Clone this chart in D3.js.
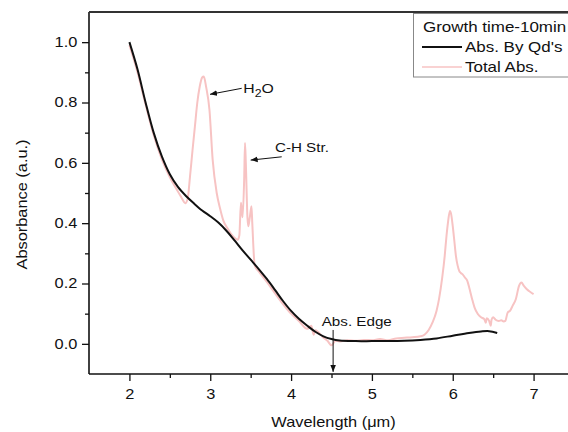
<!DOCTYPE html>
<html><head><meta charset="utf-8">
<script src="https://cdn.jsdelivr.net/npm/d3@7"></script>
<style>html,body{margin:0;padding:0;background:#fff;overflow:hidden}</style>
</head><body>
<svg id="c" width="568" height="432"></svg>
<script>
// ---------- data ----------
const qdWavelength = [2.0,2.1,2.2,2.3,2.4,2.5,2.6,2.7,2.8,2.9,3.0,3.1,3.2,3.3,3.4,3.5,3.6,3.7,3.8,3.9,4.0,4.1,4.2,4.3,4.4,4.5,4.6,4.8,5.0,5.2,5.4,5.6,5.8,6.0,6.2,6.35,6.45,6.55];
const qdAbs        = [1.0,0.91,0.8,0.7,0.622,0.562,0.52,0.49,0.465,0.442,0.423,0.402,0.375,0.343,0.31,0.279,0.248,0.215,0.179,0.142,0.109,0.082,0.06,0.04,0.025,0.016,0.011,0.009,0.009,0.009,0.01,0.013,0.018,0.027,0.036,0.041,0.042,0.036];

const totalWavelength = [2.0,2.1,2.2,2.3,2.4,2.5,2.6,2.65,2.69,2.72,2.75,2.78,2.81,2.84,2.87,2.9,2.92,2.95,2.99,3.03,3.08,3.12,3.16,3.22,3.28,3.34,3.36,3.38,3.39,3.4,3.42,3.43,3.44,3.46,3.47,3.49,3.51,3.52,3.55,3.6,3.7,3.8,3.9,4.0,4.1,4.2,4.25,4.28,4.3,4.4,4.45,4.5,4.55,4.6,4.7,4.8,4.9,5.0,5.1,5.2,5.3,5.4,5.5,5.6,5.65,5.7,5.75,5.8,5.83,5.87,5.9,5.92,5.94,5.965,5.98,6.0,6.02,6.04,6.06,6.08,6.1,6.12,6.15,6.18,6.21,6.24,6.27,6.31,6.35,6.39,6.41,6.42,6.45,6.47,6.48,6.5,6.53,6.57,6.6,6.63,6.65,6.68,6.71,6.74,6.78,6.82,6.85,6.88,6.92,6.96,7.0];
const totalAbs        = [0.99,0.9,0.793,0.692,0.612,0.552,0.505,0.482,0.466,0.48,0.556,0.64,0.72,0.8,0.853,0.883,0.886,0.85,0.776,0.61,0.5,0.45,0.41,0.38,0.357,0.345,0.36,0.468,0.44,0.42,0.55,0.666,0.6,0.42,0.39,0.42,0.456,0.4,0.26,0.24,0.205,0.168,0.132,0.1,0.075,0.05,0.06,0.03,0.045,0.02,0.01,-0.005,0.01,0.008,0.012,0.01,0.013,0.012,0.016,0.012,0.018,0.02,0.022,0.025,0.03,0.045,0.071,0.11,0.148,0.22,0.29,0.35,0.4,0.44,0.43,0.39,0.34,0.29,0.26,0.242,0.235,0.231,0.22,0.209,0.18,0.148,0.12,0.099,0.088,0.082,0.07,0.085,0.076,0.06,0.08,0.088,0.08,0.076,0.078,0.074,0.076,0.104,0.11,0.126,0.148,0.192,0.203,0.192,0.18,0.172,0.165];

const xTickValues = [2,3,4,5,6,7];
const xMinorTicks = [2.5,3.5,4.5,5.5,6.5];
const yTickValues = [0,0.2,0.4,0.6,0.8,1.0];
const yMinorTicks = [0.1,0.3,0.5,0.7,0.9];
const legendTitle = "Growth time-10min";
const seriesNames = ["Abs. By Qd's","Total Abs."];
const seriesColors = ["#111111","#f7c3c3"];
const xTitle = "Wavelength (\u03BCm)";
const yTitle = "Absorbance (a.u.)";

// ---------- layout ----------
const W = 568, H = 432;
const SX = 1.17; // horizontal glyph stretch of the reference's font
const svg = d3.select('#c').attr('font-family','"Liberation Sans", Arial, sans-serif');
const x = d3.scaleLinear().domain([1.5,7.5]).range([89,574]);
const y = d3.scaleLinear().domain([-0.1,1.1]).range([374,12]);
const x0 = x.range()[0], yB = y.range()[0], yT = y.range()[1];

function stext(g, px, py, s, size, anchor) {
  return g.append('text')
    .attr('transform', `translate(${px},${py}) scale(${SX},1)`)
    .attr('font-size', size).attr('text-anchor', anchor || 'start')
    .attr('fill', '#111').text(s);
}

// ---------- series ----------
const lineTotal = d3.line().x(d => x(d[0])).y(d => y(d[1])).curve(d3.curveMonotoneX);
const lineQd = d3.line().x(d => x(d[0])).y(d => y(d[1])).curve(d3.curveCatmullRom.alpha(0.5));
svg.append('path').datum(d3.zip(totalWavelength,totalAbs))
  .attr('d', lineTotal).attr('fill','none').attr('stroke',seriesColors[1]).attr('stroke-width',2).attr('stroke-linejoin','round');
svg.append('path').datum(d3.zip(qdWavelength,qdAbs))
  .attr('d', lineQd).attr('fill','none').attr('stroke',seriesColors[0]).attr('stroke-width',2).attr('stroke-linejoin','round');

// ---------- axes ----------
const gy = svg.append('g').attr('transform',`translate(${x0},0)`)
  .call(d3.axisLeft(y).tickValues(yTickValues).tickSize(7).tickFormat(d3.format('.1f')));
gy.select('.domain').remove();
gy.selectAll('.tick line').attr('stroke','#111').attr('stroke-width',1.3);
gy.selectAll('.tick text').attr('x',-11.7/SX).attr('transform',`scale(${SX},1)`)
  .attr('font-size',14).attr('font-family','"Liberation Sans", Arial, sans-serif').attr('fill','#111');
const gym = svg.append('g').attr('transform',`translate(${x0},0)`)
  .call(d3.axisLeft(y).tickValues(yMinorTicks).tickSize(4).tickFormat(''));
gym.select('.domain').remove();
gym.selectAll('.tick line').attr('stroke','#111').attr('stroke-width',1.3);

const gx = svg.append('g').attr('transform',`translate(0,${yB})`)
  .call(d3.axisBottom(x).tickValues(xTickValues).tickSize(7).tickPadding(8).tickFormat(d3.format('d')));
gx.select('.domain').remove();
gx.selectAll('.tick line').attr('stroke','#111').attr('stroke-width',1.3);
gx.selectAll('.tick text').attr('transform',`scale(${SX},1)`)
  .attr('font-size',14).attr('font-family','"Liberation Sans", Arial, sans-serif').attr('fill','#111');
const gxm = svg.append('g').attr('transform',`translate(0,${yB})`)
  .call(d3.axisBottom(x).tickValues(xMinorTicks).tickSize(4).tickFormat(''));
gxm.select('.domain').remove();
gxm.selectAll('.tick line').attr('stroke','#111').attr('stroke-width',1.3);

// axis frame lines
svg.append('line').attr('x1',x0).attr('x2',W).attr('y1',yB).attr('y2',yB).attr('stroke','#111').attr('stroke-width',1.6);
svg.append('line').attr('x1',x0).attr('x2',x0).attr('y1',yT).attr('y2',yB).attr('stroke','#111').attr('stroke-width',1.6);
svg.append('line').attr('x1',x0).attr('x2',W).attr('y1',yT).attr('y2',yT).attr('stroke','#333').attr('stroke-width',2.2);

// axis titles
stext(svg, (x0+x.range()[1])/2 + 2, 427, xTitle, 14, 'middle');
svg.append('text').attr('transform',`translate(27,204.5) rotate(-90) scale(${SX},1)`)
  .attr('font-size',14).attr('text-anchor','middle').attr('fill','#111').text(yTitle);

// ---------- annotations ----------
const defs = svg.append('defs');
defs.append('marker').attr('id','ah').attr('viewBox','0 0 10 10').attr('refX',10).attr('refY',5)
  .attr('markerWidth',7).attr('markerHeight',7).attr('markerUnits','userSpaceOnUse').attr('orient','auto')
  .append('path').attr('d','M0,1 L10,5 L0,9 Z').attr('fill','#111');

const arrows = [
  {from:[3.389,0.847], to:[2.997,0.827]},
  {from:[3.884,0.620], to:[3.50,0.609]},
  {from:[4.52,0.046], to:[4.52,-0.093]}
];
arrows.forEach(a => {
  svg.append('line').attr('x1',x(a.from[0])).attr('y1',y(a.from[1]))
    .attr('x2',x(a.to[0])).attr('y2',y(a.to[1]))
    .attr('stroke','#111').attr('stroke-width',1).attr('marker-end','url(#ah)');
});
// H2O
const th = svg.append('text').attr('transform',`translate(${x(3.409)},${y(0.83)}) scale(${SX},1)`)
  .attr('font-size',13.5).attr('fill','#111');
th.append('tspan').text('H');
th.append('tspan').attr('dy',4).attr('font-size',10.5).text('2');
th.append('tspan').attr('dy',-4).text('O');
stext(svg, x(3.80), y(0.637), 'C-H Str.', 13, 'start');
stext(svg, x(4.379), y(0.059), 'Abs. Edge', 13, 'start');

// ---------- legend ----------
const lg = svg.append('g');
lg.append('rect').attr('x',413.5).attr('y',13.5).attr('width',200).attr('height',63.5)
  .attr('fill','#fff').attr('stroke','#888').attr('stroke-width',1);
stext(lg, 423, 32, legendTitle, 14.5, 'start');
seriesNames.forEach((n,i) => {
  const yy = 47 + i*20;
  lg.append('line').attr('x1',422).attr('x2',462).attr('y1',yy).attr('y2',yy)
    .attr('stroke',seriesColors[i]).attr('stroke-width',i===0?2.2:1.5);
  stext(lg, 465, yy+5, n, 14.5, 'start');
});
</script>
</body></html>
